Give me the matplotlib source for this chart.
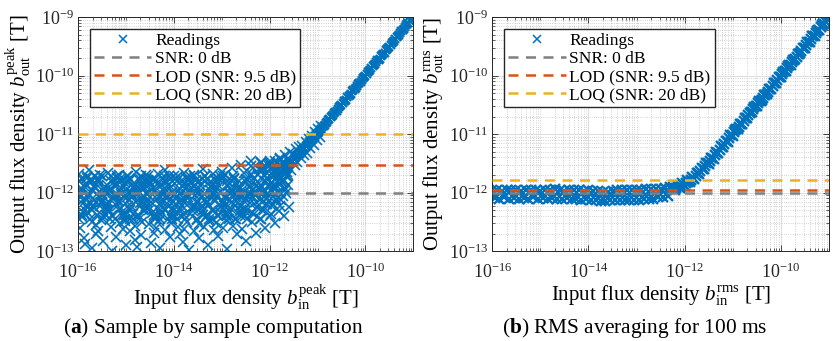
"""Measured vs. input flux density for the two readout modes (peak and RMS)."""

import matplotlib

matplotlib.use("Agg")
import matplotlib.pyplot as plt
import numpy as np
from matplotlib.ticker import FixedLocator, LogFormatterMathtext, LogLocator, NullFormatter

BLUE = "#0072BD"
GRAY = "#7F7F7F"
RED = "#D95319"
YELLOW = "#EDB120"

# --- (a) sample by sample: log10 of input / output flux density ---------------
# noise cloud below the detection limit (wide spread)
peak_cloud_x = [
    -15.99, -15.95, -15.92, -15.88, -15.85, -15.82, -15.97, -15.93, -15.90, -15.86, -15.83, -15.81,
    -15.78, -15.74, -15.70, -15.67, -15.63, -15.61, -15.79, -15.76, -15.72, -15.69, -15.65, -15.62,
    -15.59, -15.56, -15.52, -15.48, -15.45, -15.41, -15.58, -15.54, -15.50, -15.47, -15.43, -15.40,
    -15.38, -15.35, -15.31, -15.28, -15.24, -15.21, -15.39, -15.36, -15.33, -15.29, -15.26, -15.22,
    -15.19, -15.15, -15.12, -15.08, -15.05, -15.01, -15.17, -15.14, -15.10, -15.07, -15.03, -15.02,
    -14.99, -14.96, -14.92, -14.89, -14.85, -14.81, -14.98, -14.94, -14.91, -14.87, -14.84, -14.82,
    -14.79, -14.75, -14.72, -14.68, -14.65, -14.61, -14.77, -14.74, -14.70, -14.67, -14.63, -14.62,
    -14.59, -14.56, -14.52, -14.49, -14.45, -14.41, -14.58, -14.54, -14.51, -14.47, -14.43, -14.42,
    -14.39, -14.35, -14.32, -14.28, -14.25, -14.21, -14.37, -14.34, -14.30, -14.27, -14.23, -14.22,
    -14.19, -14.16, -14.12, -14.09, -14.05, -14.01, -14.18, -14.14, -14.11, -14.07, -14.03, -14.02,
    -13.99, -13.95, -13.92, -13.88, -13.85, -13.81, -13.97, -13.94, -13.90, -13.87, -13.83, -13.82,
    -13.79, -13.76, -13.72, -13.69, -13.65, -13.61, -13.78, -13.74, -13.71, -13.67, -13.63, -13.62,
    -13.59, -13.55, -13.52, -13.48, -13.45, -13.41, -13.57, -13.54, -13.50, -13.47, -13.43, -13.42,
    -13.39, -13.36, -13.32, -13.29, -13.25, -13.21, -13.38, -13.34, -13.31, -13.27, -13.23, -13.22,
    -13.19, -13.15, -13.12, -13.08, -13.05, -13.01, -13.17, -13.14, -13.10, -13.07, -13.03, -13.02,
    -12.99, -12.96, -12.92, -12.89, -12.85, -12.81, -12.98, -12.94, -12.91, -12.87, -12.83, -12.82,
    -12.79, -12.75, -12.72, -12.68, -12.65, -12.61, -12.77, -12.74, -12.70, -12.67, -12.63, -12.62,
    -12.59, -12.56, -12.52, -12.49, -12.45, -12.41, -12.58, -12.54, -12.51, -12.47, -12.43, -12.42,
    -12.39, -12.35, -12.32, -12.28, -12.25, -12.21, -12.37, -12.34, -12.30, -12.27, -12.23, -12.22,
    -12.19, -12.16, -12.12, -12.09, -12.05, -12.01, -12.18, -12.14, -12.11, -12.07, -12.03, -12.02,
    -11.99, -11.95, -11.92, -11.88, -11.85, -11.81, -11.97, -11.94, -11.90, -11.87, -11.83, -11.82,
    -11.79, -11.76, -11.72, -11.69, -11.65, -11.61, -11.78, -11.74, -11.71, -11.67, -11.63, -11.62,
]
peak_cloud_y = [
    -11.68, -12.05, -12.42, -12.78, -11.85, -12.21, -12.60, -11.95, -12.33, -12.88, -12.12, -11.75,
    -11.62, -12.18, -12.50, -11.90, -12.70, -12.02, -12.35, -11.80, -12.95, -12.25, -11.72, -12.55,
    -11.78, -12.08, -12.46, -12.83, -11.92, -12.28, -12.65, -11.70, -12.15, -12.40, -12.00, -11.86,
    -11.66, -12.32, -12.58, -12.10, -11.88, -12.75, -12.20, -11.96, -12.45, -13.00, -11.82, -12.05,
    -11.74, -12.14, -12.52, -11.93, -12.38, -12.90, -12.03, -11.69, -12.26, -12.62, -11.84, -12.48,
    -11.80, -12.22, -12.66, -11.98, -12.36, -12.80, -11.72, -12.12, -12.44, -12.06, -11.90, -12.56,
    -11.64, -12.02, -12.40, -12.72, -11.88, -12.30, -12.92, -11.76, -12.18, -12.50, -12.08, -11.94,
    -11.70, -12.16, -12.54, -11.84, -12.34, -12.68, -12.00, -11.78, -12.24, -12.86, -11.92, -12.42,
    -11.76, -12.10, -12.48, -12.94, -11.86, -12.28, -12.60, -11.68, -12.20, -12.38, -12.04, -11.96,
    -11.62, -12.06, -12.44, -12.76, -11.90, -12.32, -12.64, -11.82, -12.14, -12.52, -11.98, -12.26,
    -11.72, -12.20, -12.58, -11.94, -12.40, -12.84, -12.02, -11.80, -12.30, -12.70, -11.88, -12.12,
    -11.66, -12.12, -12.50, -12.98, -11.84, -12.26, -12.62, -11.74, -12.08, -12.36, -12.00, -11.92,
    -11.70, -12.04, -12.46, -12.78, -11.86, -12.22, -12.66, -11.78, -12.16, -12.54, -11.96, -12.32,
    -11.60, -12.10, -12.42, -12.90, -11.82, -12.30, -12.58, -11.72, -12.18, -12.48, -12.02, -11.90,
    -11.68, -12.14, -12.52, -12.74, -11.88, -12.24, -12.64, -11.76, -12.06, -12.40, -11.98, -12.34,
    -11.64, -12.08, -12.46, -12.96, -11.84, -12.28, -12.60, -11.70, -12.20, -12.38, -12.00, -11.92,
    -11.58, -12.02, -12.44, -12.70, -11.80, -12.22, -12.56, -11.74, -12.14, -12.34, -11.94, -12.06,
    -11.52, -12.06, -12.40, -12.82, -11.78, -12.18, -12.62, -11.66, -12.10, -12.30, -11.90, -11.98,
    -11.45, -11.96, -12.36, -12.68, -11.70, -12.12, -12.50, -11.58, -12.04, -12.24, -11.84, -11.92,
    -11.48, -11.90, -12.30, -12.60, -11.66, -12.06, -12.44, -11.56, -11.98, -12.20, -11.78, -11.86,
    -11.50, -11.84, -12.20, -12.52, -11.62, -11.98, -12.36, -11.56, -11.90, -12.10, -11.72, -11.80,
    -11.42, -11.74, -12.06, -12.40, -11.56, -11.86, -12.22, -11.50, -11.80, -11.96, -11.64, -11.70,
]
# dense core of the noise cloud
peak_core_x = [
    -15.98, -15.94, -15.90, -15.86, -15.82, -15.96, -15.92, -15.88, -15.84, -15.80, -15.99, -15.91,
    -15.78, -15.74, -15.70, -15.66, -15.62, -15.76, -15.72, -15.68, -15.64, -15.60, -15.79, -15.71,
    -15.58, -15.54, -15.50, -15.46, -15.42, -15.56, -15.52, -15.48, -15.44, -15.40, -15.59, -15.51,
    -15.38, -15.34, -15.30, -15.26, -15.22, -15.36, -15.32, -15.28, -15.24, -15.20, -15.39, -15.31,
    -15.18, -15.14, -15.10, -15.06, -15.02, -15.16, -15.12, -15.08, -15.04, -15.00, -15.19, -15.11,
    -14.98, -14.94, -14.90, -14.86, -14.82, -14.96, -14.92, -14.88, -14.84, -14.80, -14.99, -14.91,
    -14.78, -14.74, -14.70, -14.66, -14.62, -14.76, -14.72, -14.68, -14.64, -14.60, -14.79, -14.71,
    -14.58, -14.54, -14.50, -14.46, -14.42, -14.56, -14.52, -14.48, -14.44, -14.40, -14.59, -14.51,
    -14.38, -14.34, -14.30, -14.26, -14.22, -14.36, -14.32, -14.28, -14.24, -14.20, -14.39, -14.31,
    -14.18, -14.14, -14.10, -14.06, -14.02, -14.16, -14.12, -14.08, -14.04, -14.00, -14.19, -14.11,
    -13.98, -13.94, -13.90, -13.86, -13.82, -13.96, -13.92, -13.88, -13.84, -13.80, -13.99, -13.91,
    -13.78, -13.74, -13.70, -13.66, -13.62, -13.76, -13.72, -13.68, -13.64, -13.60, -13.79, -13.71,
    -13.58, -13.54, -13.50, -13.46, -13.42, -13.56, -13.52, -13.48, -13.44, -13.40, -13.59, -13.51,
    -13.38, -13.34, -13.30, -13.26, -13.22, -13.36, -13.32, -13.28, -13.24, -13.20, -13.39, -13.31,
    -13.18, -13.14, -13.10, -13.06, -13.02, -13.16, -13.12, -13.08, -13.04, -13.00, -13.19, -13.11,
    -12.98, -12.94, -12.90, -12.86, -12.82, -12.96, -12.92, -12.88, -12.84, -12.80, -12.99, -12.91,
    -12.78, -12.74, -12.70, -12.66, -12.62, -12.76, -12.72, -12.68, -12.64, -12.60, -12.79, -12.71,
    -12.58, -12.54, -12.50, -12.46, -12.42, -12.56, -12.52, -12.48, -12.44, -12.40, -12.59, -12.51,
    -12.38, -12.34, -12.30, -12.26, -12.22, -12.36, -12.32, -12.28, -12.24, -12.20, -12.39, -12.31,
    -12.18, -12.14, -12.10, -12.06, -12.02, -12.16, -12.12, -12.08, -12.04, -12.00, -12.19, -12.11,
    -11.98, -11.94, -11.90, -11.86, -11.82, -11.96, -11.92, -11.88, -11.84, -11.80, -11.99, -11.91,
    -11.78, -11.74, -11.70, -11.66, -11.62, -11.76, -11.72, -11.68, -11.64, -11.60, -11.79, -11.71,
]
peak_core_y = [
    -11.80, -12.15, -11.95, -12.30, -11.72, -12.08, -12.38, -11.88, -12.22, -12.02, -12.45, -11.76,
    -12.02, -11.76, -12.30, -11.88, -12.15, -12.45, -11.95, -12.22, -11.72, -12.38, -12.08, -11.80,
    -11.88, -12.22, -11.72, -12.08, -12.38, -11.80, -12.15, -12.45, -11.95, -12.30, -11.76, -12.02,
    -12.15, -11.95, -12.38, -11.76, -12.02, -12.30, -11.80, -12.08, -12.45, -11.88, -12.22, -11.72,
    -11.72, -12.30, -12.02, -11.88, -12.45, -12.15, -11.76, -12.38, -12.08, -11.95, -12.22, -11.80,
    -12.08, -11.80, -12.22, -12.45, -11.95, -11.72, -12.30, -12.02, -11.88, -12.15, -12.38, -11.76,
    -11.95, -12.38, -11.76, -12.15, -12.08, -11.88, -12.45, -11.72, -12.30, -11.80, -12.02, -12.22,
    -12.22, -11.72, -12.08, -11.95, -12.38, -12.02, -11.80, -12.15, -11.76, -12.45, -11.88, -12.30,
    -11.80, -12.02, -12.45, -12.22, -11.76, -12.38, -11.88, -12.30, -12.15, -11.72, -11.95, -12.08,
    -12.30, -11.88, -11.72, -12.38, -12.15, -11.95, -12.08, -11.76, -12.45, -12.02, -11.80, -12.22,
    -11.76, -12.45, -12.15, -11.80, -12.22, -12.08, -11.72, -12.02, -12.30, -11.88, -12.38, -11.95,
    -12.38, -12.08, -11.88, -11.72, -12.30, -12.45, -12.02, -11.95, -11.80, -12.22, -12.15, -11.76,
    -11.88, -12.15, -12.30, -12.02, -11.76, -12.22, -12.45, -11.80, -12.08, -12.38, -11.72, -11.95,
    -12.02, -11.72, -12.38, -12.45, -11.88, -11.80, -12.15, -12.22, -11.95, -12.08, -12.30, -11.76,
    -12.45, -11.95, -12.08, -11.76, -12.22, -12.30, -11.88, -12.38, -11.72, -12.15, -12.02, -11.80,
    -11.72, -12.22, -11.80, -12.30, -12.02, -12.15, -12.38, -11.88, -12.45, -11.95, -11.76, -12.08,
    -12.15, -11.76, -12.45, -11.95, -12.38, -11.72, -12.22, -12.08, -11.88, -12.30, -11.80, -12.02,
    -11.95, -12.30, -11.76, -12.08, -11.72, -12.38, -11.80, -12.45, -12.02, -11.88, -12.22, -12.15,
    -11.68, -12.08, -11.85, -12.25, -11.60, -12.35, -11.75, -12.15, -11.92, -12.45, -11.55, -12.00,
    -11.62, -12.00, -11.80, -12.20, -11.55, -12.30, -11.70, -12.10, -11.88, -12.40, -11.50, -11.95,
    -11.58, -11.92, -11.72, -12.12, -11.50, -12.22, -11.65, -12.02, -11.82, -12.32, -11.46, -11.88,
    -11.52, -11.82, -11.62, -12.00, -11.45, -12.12, -11.58, -11.92, -11.72, -12.25, -11.40, -11.78,
]
# scatter around the knee where signal meets noise
peak_knee_x = [
    -12.15, -12.10, -12.05, -12.00, -11.95, -11.92, -11.88, -11.85, -11.82, -11.78, -11.75, -11.72,
    -11.68, -11.65, -11.62, -11.58, -11.55, -11.52, -11.48, -11.45, -11.42, -11.38, -11.35, -11.32,
    -11.28, -11.25, -11.22, -11.18, -11.15, -11.12, -11.08, -11.05, -11.02, -10.98, -10.95, -10.92,
]
peak_knee_y = [
    -11.62, -12.05, -11.75, -11.52, -11.98, -11.70, -11.45, -11.88, -11.60, -11.42, -11.82, -11.50,
    -11.36, -11.72, -11.42, -11.30, -11.62, -11.34, -11.52, -11.26, -11.48, -11.22, -11.40, -11.20,
    -11.36, -11.13, -11.32, -11.08, -11.24, -11.03, -11.18, -10.97, -11.10, -10.92, -11.04, -10.86,
]
# linear response above the noise floor
peak_line_x = [
    -11.800, -11.775, -11.750, -11.725, -11.700, -11.675, -11.650, -11.625, -11.600, -11.575,
    -11.550, -11.525, -11.500, -11.475, -11.450, -11.425, -11.400, -11.375, -11.350, -11.325,
    -11.300, -11.275, -11.250, -11.225, -11.200, -11.175, -11.150, -11.125, -11.100, -11.075,
    -11.050, -11.025, -11.000, -10.975, -10.950, -10.925, -10.900, -10.875, -10.850, -10.825,
    -10.800, -10.775, -10.750, -10.725, -10.700, -10.675, -10.650, -10.625, -10.600, -10.575,
    -10.550, -10.525, -10.500, -10.475, -10.450, -10.425, -10.400, -10.375, -10.350, -10.325,
    -10.300, -10.275, -10.250, -10.225, -10.200, -10.175, -10.150, -10.125, -10.100, -10.075,
    -10.050, -10.025, -10.000, -9.975, -9.950, -9.925, -9.900, -9.875, -9.850, -9.825,
    -9.800, -9.775, -9.750, -9.725, -9.700, -9.675, -9.650, -9.625, -9.600, -9.575,
    -9.550, -9.525, -9.500, -9.475, -9.450, -9.425, -9.400, -9.375, -9.350, -9.325,
    -9.300, -9.275, -9.250, -9.225, -9.200, -9.175, -9.150, -9.125, -9.100, -9.075,
    -9.050, -9.025, -9.000,
]
peak_line_y = [
    -11.660, -11.640, -11.630, -11.600, -11.580, -11.560, -11.550, -11.520, -11.500, -11.480,
    -11.470, -11.450, -11.430, -11.400, -11.380, -11.370, -11.350, -11.330, -11.300, -11.280,
    -11.250, -11.230, -11.210, -11.190, -11.160, -11.140, -11.120, -11.100, -11.070, -11.050,
    -11.030, -11.000, -10.980, -10.960, -10.930, -10.910, -10.880, -10.860, -10.840, -10.815,
    -10.790, -10.765, -10.740, -10.715, -10.690, -10.665, -10.640, -10.620, -10.600, -10.570,
    -10.540, -10.520, -10.500, -10.470, -10.440, -10.425, -10.410, -10.370, -10.340, -10.325,
    -10.310, -10.270, -10.240, -10.225, -10.210, -10.170, -10.140, -10.125, -10.110, -10.070,
    -10.040, -10.025, -10.010, -9.970, -9.940, -9.925, -9.910, -9.870, -9.840, -9.825,
    -9.810, -9.770, -9.740, -9.725, -9.710, -9.670, -9.640, -9.625, -9.610, -9.570,
    -9.540, -9.525, -9.510, -9.470, -9.440, -9.425, -9.410, -9.370, -9.340, -9.325,
    -9.310, -9.270, -9.240, -9.225, -9.210, -9.170, -9.140, -9.125, -9.110, -9.070,
    -9.040, -9.025, -9.010,
]
peak_thresholds = [1.0e-12, 3.0e-12, 1.0e-11]

# --- (b) RMS over 100 ms: log10 of input / output flux density ---------------
rms_x = [
    -16.00, -15.95, -15.90, -15.85, -15.80, -15.75, -15.70, -15.65, -15.60, -15.55,
    -15.50, -15.45, -15.40, -15.35, -15.30, -15.25, -15.20, -15.15, -15.10, -15.05,
    -15.00, -14.95, -14.90, -14.85, -14.80, -14.75, -14.70, -14.65, -14.60, -14.55,
    -14.50, -14.45, -14.40, -14.35, -14.30, -14.25, -14.20, -14.15, -14.10, -14.05,
    -14.00, -13.95, -13.90, -13.85, -13.80, -13.75, -13.70, -13.65, -13.60, -13.55,
    -13.50, -13.45, -13.40, -13.35, -13.30, -13.25, -13.20, -13.15, -13.10, -13.05,
    -13.00, -12.95, -12.90, -12.85, -12.80, -12.75, -12.70, -12.65, -12.60, -12.55,
    -12.50, -12.45, -12.40, -12.35, -12.30, -12.25, -12.20, -12.15, -12.10, -12.05,
    -12.00, -11.95, -11.90, -11.85, -11.80, -11.75, -11.70, -11.65, -11.60, -11.55,
    -11.50, -11.45, -11.40, -11.35, -11.30, -11.25, -11.20, -11.15, -11.10, -11.05,
    -11.00, -10.95, -10.90, -10.85, -10.80, -10.75, -10.70, -10.65, -10.60, -10.55,
    -10.50, -10.45, -10.40, -10.35, -10.30, -10.25, -10.20, -10.15, -10.10, -10.05,
    -10.00, -9.95, -9.90, -9.85, -9.80, -9.75, -9.70, -9.65, -9.60, -9.55,
    -9.50, -9.45, -9.40, -9.35, -9.30, -9.25, -9.20, -9.15, -9.10, -9.05, -9.00,
]
rms_y = [
    -11.96, -12.09, -11.95, -12.10, -11.97, -12.08, -11.95, -12.11, -11.96, -12.09,
    -11.95, -12.10, -11.97, -12.09, -11.96, -12.11, -11.95, -12.08, -11.96, -12.10,
    -11.97, -12.09, -11.95, -12.10, -11.96, -12.09, -11.94, -12.11, -11.96, -12.10,
    -11.97, -12.09, -11.95, -12.11, -11.96, -12.10, -11.96, -12.12, -11.97, -12.11,
    -11.96, -12.12, -11.97, -12.13, -11.97, -12.14, -11.98, -12.14, -11.98, -12.13,
    -11.97, -12.13, -11.96, -12.12, -11.96, -12.13, -11.95, -12.12, -11.96, -12.13,
    -11.95, -12.12, -11.95, -12.11, -11.94, -12.11, -11.94, -12.10, -11.93, -12.08,
    -11.93, -12.07, -11.92, -12.05, -11.91, -11.91, -11.96, -11.88, -11.92, -11.84,
    -11.88, -11.79, -11.82, -11.73, -11.76, -11.66, -11.68, -11.58, -11.60, -11.49,
    -11.51, -11.40, -11.42, -11.31, -11.32, -11.21, -11.22, -11.12, -11.13, -11.02,
    -11.03, -10.93, -10.92, -10.83, -10.82, -10.73, -10.72, -10.63, -10.62, -10.53,
    -10.52, -10.43, -10.42, -10.33, -10.32, -10.23, -10.22, -10.13, -10.12, -10.03,
    -10.02, -9.93, -9.92, -9.83, -9.82, -9.73, -9.72, -9.63, -9.62, -9.53,
    -9.52, -9.43, -9.42, -9.33, -9.32, -9.23, -9.22, -9.13, -9.12, -9.03, -9.02,
]
# readings between the ones above on the rising branch
rms_mid_x = [
    -12.225, -12.175, -12.125, -12.075, -12.025, -11.975, -11.925, -11.875, -11.825, -11.775,
    -11.725, -11.675, -11.625, -11.575, -11.525, -11.475, -11.425, -11.375, -11.325, -11.275,
    -11.225, -11.175, -11.125, -11.075, -11.025, -10.975, -10.925, -10.875, -10.825, -10.775,
    -10.725, -10.675, -10.625, -10.575, -10.525, -10.475, -10.425, -10.375, -10.325, -10.275,
    -10.225, -10.175, -10.125, -10.075, -10.025, -9.975, -9.925, -9.875, -9.825, -9.775,
    -9.725, -9.675, -9.625, -9.575, -9.525, -9.475, -9.425, -9.375, -9.325, -9.275,
    -9.225, -9.175, -9.125, -9.075, -9.025,
]
rms_mid_y = [
    -11.93, -11.92, -11.90, -11.88, -11.86, -11.84, -11.81, -11.78, -11.75, -11.71,
    -11.67, -11.63, -11.59, -11.55, -11.50, -11.46, -11.41, -11.36, -11.32, -11.27,
    -11.22, -11.17, -11.12, -11.07, -11.02, -10.97, -10.92, -10.875, -10.825, -10.775,
    -10.725, -10.675, -10.625, -10.575, -10.525, -10.475, -10.425, -10.375, -10.325, -10.275,
    -10.225, -10.175, -10.125, -10.075, -10.025, -9.975, -9.925, -9.875, -9.825, -9.775,
    -9.725, -9.675, -9.625, -9.575, -9.525, -9.475, -9.425, -9.375, -9.325, -9.275,
    -9.225, -9.175, -9.125, -9.075, -9.025,
]
rms_thresholds = [1.0e-12, 1.12e-12, 1.62e-12]

threshold_labels = ["SNR: 0 dB", "LOD (SNR: 9.5 dB)", "LOQ (SNR: 20 dB)"]
threshold_colors = [GRAY, RED, YELLOW]

plt.rcParams.update(
    {
        "font.family": "Liberation Serif",
        "mathtext.fontset": "custom",
        "mathtext.rm": "Liberation Serif",
        "mathtext.it": "Liberation Serif:italic",
        "mathtext.bf": "Liberation Serif:bold",
        "axes.edgecolor": "#262626",
        "axes.linewidth": 0.7,
        "xtick.color": "#262626",
        "ytick.color": "#262626",
    }
)


def style_axes(ax, kind, ylabel_x):
    ax.set_xscale("log")
    ax.set_yscale("log")
    ax.set_xlim(1e-16, 1e-9)
    ax.set_ylim(1e-13, 1e-9)
    ax.xaxis.set_major_locator(FixedLocator([1e-16, 1e-14, 1e-12, 1e-10]))
    ax.xaxis.set_minor_locator(LogLocator(base=10, subs=np.arange(1, 10), numticks=100))
    ax.yaxis.set_major_locator(LogLocator(base=10, numticks=10))
    ax.yaxis.set_minor_locator(LogLocator(base=10, subs=np.arange(2, 10), numticks=100))
    for axis in (ax.xaxis, ax.yaxis):
        axis.set_major_formatter(LogFormatterMathtext())
        axis.set_minor_formatter(NullFormatter())
    ax.tick_params(which="both", direction="in", top=True, right=True, labelsize=13)
    ax.tick_params(which="major", length=4, width=0.6)
    ax.tick_params(which="minor", length=2, width=0.5)
    ax.tick_params(axis="x", which="major", pad=8)
    ax.tick_params(axis="y", which="major", pad=3)
    ax.grid(True, which="major", color="#dcdcdc", lw=0.7)
    ax.grid(True, which="minor", color="#c4c4c4", ls=":", lw=0.6)
    ax.set_axisbelow(True)
    ax.set_xlabel(rf"Input flux density $b_{{\mathrm{{in}}}}^{{\mathrm{{{kind}}}}}$ [T]", fontsize=15, labelpad=1)
    ax.set_ylabel(rf"Output flux density $b_{{\mathrm{{out}}}}^{{\mathrm{{{kind}}}}}$ [T]", fontsize=15)
    ax.yaxis.set_label_coords(ylabel_x, 0.5)


def add_thresholds_and_legend(ax, thresholds):
    for level, label, color in zip(thresholds, threshold_labels, threshold_colors):
        ax.axhline(level, color=color, lw=1.8, dashes=(4, 3), label=label, zorder=3)
    leg = ax.legend(
        loc="upper left",
        bbox_to_anchor=(0.035, 0.95),
        borderaxespad=0,
        fontsize=12.5,
        frameon=True,
        fancybox=False,
        framealpha=1,
        edgecolor="#262626",
        handlelength=3.3,
        handletextpad=0.2,
        labelspacing=0.1,
        borderpad=0.25,
    )
    # keep the legend cross thin even where the band markers are drawn heavier
    handle = leg.legend_handles[0]
    handle.set_markeredgewidth(1.1)
    handle.set_markersize(6)


def log_to_flux(values):
    return np.power(10.0, np.asarray(values))


fig = plt.figure(figsize=(8.4, 3.41), dpi=100)
ax_peak = fig.add_axes([0.093, 0.263, 0.399, 0.687])
ax_rms = fig.add_axes([0.586, 0.263, 0.401, 0.687])

# (a) noisy cloud in thin crosses, linear branch heavier so it reads as a band
ax_peak.plot(
    log_to_flux(peak_cloud_x + peak_core_x + peak_knee_x),
    log_to_flux(peak_cloud_y + peak_core_y + peak_knee_y),
    ls="none", marker="x", ms=6.5, mew=1.15, color=BLUE, label="Readings", zorder=2,
)
ax_peak.plot(
    log_to_flux(peak_line_x), log_to_flux(peak_line_y),
    ls="none", marker="x", ms=6, mew=1.6, color=BLUE, zorder=2,
)
add_thresholds_and_legend(ax_peak, peak_thresholds)
style_axes(ax_peak, "peak", -0.134)

# (b) averaged readings form a tight band
ax_rms.plot(
    log_to_flux(rms_x + rms_mid_x), log_to_flux(rms_y + rms_mid_y),
    ls="none", marker="x", ms=6.5, mew=1.7, color=BLUE, label="Readings", zorder=2,
)
add_thresholds_and_legend(ax_rms, rms_thresholds)
style_axes(ax_rms, "rms", -0.139)

fig.text(0.075, 0.038, r"($\mathbf{a}$) Sample by sample computation", ha="left", va="center", fontsize=15.4)
fig.text(0.598, 0.038, r"($\mathbf{b}$) RMS averaging for 100 ms", ha="left", va="center", fontsize=15.4)

fig.savefig("out.png", dpi=100)
